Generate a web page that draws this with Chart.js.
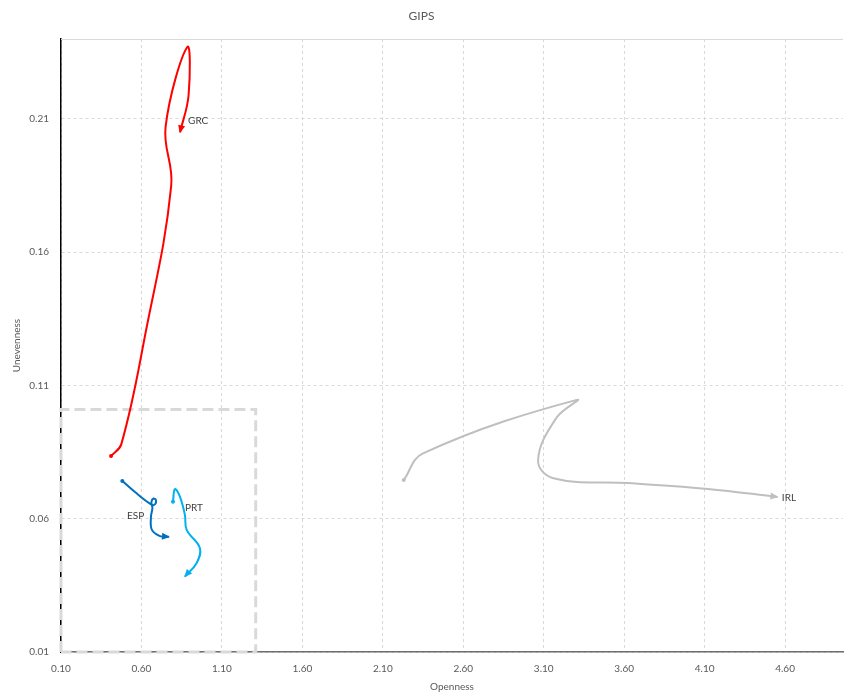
<!DOCTYPE html>
<html>
<head>
<meta charset="utf-8">
<script src="https://cdn.jsdelivr.net/npm/chart.js@4.4.1/dist/chart.umd.min.js"></script>
<style>
html, body { margin: 0; padding: 0; background: #fff; }
</style>
</head>
<body>
<canvas id="gChart" width="844" height="694"></canvas>
<script>
// series (Openness, Unevenness)
const grcX = [0.411, 0.475, 0.62, 0.785, 0.75, 0.885, 0.893, 0.84];
const grcY = [0.0835, 0.088, 0.128, 0.185, 0.207, 0.237, 0.219, 0.205];
const espX = [0.481, 0.56, 0.663, 0.684, 0.69, 0.675, 0.662, 0.668, 0.659, 0.665, 0.715, 0.771];
const espY = [0.0742, 0.070, 0.0653, 0.0654, 0.067, 0.0676, 0.0663, 0.064, 0.0607, 0.0558, 0.0535, 0.0532];
const prtX = [0.796, 0.808, 0.839, 0.870, 0.881, 0.963, 0.943, 0.870];
const prtY = [0.0664, 0.0711, 0.0683, 0.0614, 0.0558, 0.049, 0.0434, 0.0383];
const irlX = [2.23, 2.35, 3.305, 3.18, 3.065, 3.16, 3.62, 4.12, 4.553];
const irlY = [0.0745, 0.0845, 0.1046, 0.098, 0.082, 0.0752, 0.0734, 0.0712, 0.0682];

const countries = ['GRC', 'ESP', 'PRT', 'IRL'];
const colors = ['#FF0000', '#0070C0', '#00B0F0', '#BFBFBF'];
// where each country label sits (data units, left edge of text)
const labelX = [0.89, 0.51, 0.87, 4.58];
const labelY = [0.2093, 0.061, 0.064, 0.068];

// dashed reference box
const boxX = [0.1, 0.1, 1.31, 1.31, 0.1];
const boxY = [0.01, 0.101, 0.101, 0.01, 0.01];

const xTicks = [0.10, 0.60, 1.10, 1.60, 2.10, 2.60, 3.10, 3.60, 4.10, 4.60];
const yTicks = [0.01, 0.06, 0.11, 0.16, 0.21];

const FONT = 'Lato';

function pairs(xs, ys) {
    return xs.map((x, i) => ({ x: x, y: ys[i] }));
}

function seriesDataset(k, xs, ys) {
    return {
        label: countries[k],
        data: pairs(xs, ys),
        borderColor: colors[k],
        backgroundColor: colors[k],
        borderWidth: 2,
        showLine: true,
        tension: 0.4,
        pointRadius: 0,
        arrow: true,
        countryIndex: k
    };
}

// start dots, arrow heads, country labels, top frame line
const decorPlugin = {
    id: 'decor',
    beforeDatasetsDraw(chart) {
        const ctx = chart.ctx;
        const a = chart.chartArea;
        ctx.save();
        ctx.strokeStyle = '#D9D9D9';
        ctx.lineWidth = 1;
        ctx.beginPath();
        ctx.moveTo(a.left, a.top + 0.5);
        ctx.lineTo(a.right, a.top + 0.5);
        ctx.stroke();
        ctx.restore();
    },
    afterDatasetsDraw(chart) {
        const ctx = chart.ctx;
        const xs = chart.scales.x, ys = chart.scales.y;
        chart.data.datasets.forEach((ds, i) => {
            if (!ds.arrow) return;
            const pts = chart.getDatasetMeta(i).data;
            const first = pts[0];
            const last = pts[pts.length - 1];
            ctx.save();
            ctx.fillStyle = ds.borderColor;
            ctx.beginPath();
            ctx.arc(first.x, first.y, 2, 0, Math.PI * 2);
            ctx.fill();

            let fx = last.cp1x, fy = last.cp1y;
            if (fx === undefined || (Math.abs(fx - last.x) < 0.5 && Math.abs(fy - last.y) < 0.5)) {
                fx = pts[pts.length - 2].x;
                fy = pts[pts.length - 2].y;
            }
            const ang = Math.atan2(last.y - fy, last.x - fx);
            ctx.translate(last.x, last.y);
            ctx.rotate(ang);
            ctx.beginPath();
            ctx.moveTo(1, 0);
            ctx.lineTo(-7, -3.5);
            ctx.lineTo(-7, 3.5);
            ctx.closePath();
            ctx.fill();
            ctx.restore();

            const k = ds.countryIndex;
            ctx.save();
            ctx.fillStyle = '#404040';
            ctx.font = '10px ' + FONT;
            ctx.textAlign = 'left';
            ctx.textBaseline = 'middle';
            ctx.fillText(countries[k], xs.getPixelForValue(labelX[k]), ys.getPixelForValue(labelY[k]));
            ctx.restore();
        });
    }
};

const ctx = document.getElementById('gChart').getContext('2d');

const gipsChart = new Chart(ctx, {
    type: 'scatter',
    data: {
        datasets: [
            seriesDataset(0, grcX, grcY),
            seriesDataset(1, espX, espY),
            seriesDataset(2, prtX, prtY),
            seriesDataset(3, irlX, irlY),
            {
                label: 'box',
                data: pairs(boxX, boxY),
                showLine: true,
                tension: 0,
                borderColor: '#D9D9D9',
                borderWidth: 3,
                borderDash: [11, 5],
                pointRadius: 0,
                clip: false
            }
        ]
    },
    options: {
        responsive: false,
        animation: false,
        layout: { padding: { top: 0, right: 1, bottom: 0, left: 0 } },
        plugins: {
            legend: { display: false },
            tooltip: { enabled: false },
            title: {
                display: true,
                text: 'GIPS',
                color: '#595959',
                font: { family: FONT, size: 12, weight: 'normal' },
                padding: { top: 9, bottom: 15.6 }
            }
        },
        scales: {
            x: {
                type: 'linear',
                min: 0.1,
                max: 4.96,
                afterBuildTicks: s => { s.ticks = xTicks.map(v => ({ value: v })); },
                afterFit: s => { s.height = 42; },
                ticks: {
                    callback: v => v.toFixed(2),
                    color: '#595959',
                    font: { family: FONT, size: 10 },
                    padding: 11,
                    maxRotation: 0,
                    autoSkip: false
                },
                grid: { color: '#D9D9D9', lineWidth: 1, drawTicks: false },
                border: { color: '#6E6E6E', width: 1.5, dash: [3, 3] },
                title: {
                    display: true,
                    text: 'Openness',
                    color: '#595959',
                    font: { family: FONT, size: 10 },
                    padding: { top: 0, bottom: 1 }
                }
            },
            y: {
                type: 'linear',
                min: 0.01,
                max: 0.24,
                afterBuildTicks: s => { s.ticks = yTicks.map(v => ({ value: v })); },
                afterFit: s => { s.width = 61; },
                ticks: {
                    callback: v => v.toFixed(2),
                    color: '#595959',
                    font: { family: FONT, size: 10 },
                    padding: 12
                },
                grid: { color: '#D9D9D9', lineWidth: 1, drawTicks: false },
                border: { color: '#000000', width: 1.5, dash: [3, 3] },
                title: {
                    display: true,
                    text: 'Unevenness',
                    color: '#595959',
                    font: { family: FONT, size: 10 },
                    padding: { top: 11, bottom: 0 }
                }
            }
        }
    },
    plugins: [decorPlugin]
});
</script>
</body>
</html>
